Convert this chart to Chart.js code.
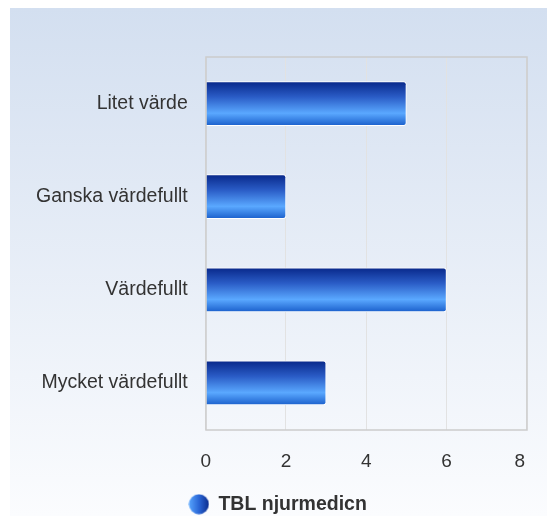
<!DOCTYPE html>
<html>
<head>
<meta charset="utf-8">
<script src="https://cdn.jsdelivr.net/npm/chart.js@4/dist/chart.umd.min.js"></script>
<style>
  html, body { margin: 0; padding: 0; background: #ffffff; }
  #wrap { width: 547px; height: 516px; position: relative; }
</style>
</head>
<body>
<div id="wrap"><canvas id="c" width="547" height="516"></canvas></div>
<script>
const categories = ['Litet värde', 'Ganska värdefullt', 'Värdefullt', 'Mycket värdefullt'];
const seriesName = 'TBL njurmedicn';
const seriesValues = [5, 2, 6, 3];
const xTicks = [0, 2, 4, 6, 8];

const BAR_THICK = 44;
const FONT = 'Liberation Sans, Arial, sans-serif';

function barGradient(ctx) {
  const chart = ctx.chart;
  const area = chart.chartArea;
  const yScale = chart.scales.y;
  if (!area || !yScale || ctx.dataIndex === undefined) return '#2f6fd6';
  const yc = yScale.getPixelForValue(ctx.dataIndex);
  const top = yc - BAR_THICK / 2, bot = yc + BAR_THICK / 2;
  const g = chart.ctx.createLinearGradient(0, top, 0, bot);
  g.addColorStop(0, '#08288a');
  g.addColorStop(0.35, '#2a5cc6');
  g.addColorStop(0.72, '#5aa8ff');
  g.addColorStop(1, '#1b60cc');
  return g;
}

const bgPlugin = {
  id: 'bgPlugin',
  beforeDraw(chart) {
    const c = chart.ctx;
    c.save();
    const g = c.createLinearGradient(0, 8, 0, 516);
    g.addColorStop(0, '#d3dff0');
    g.addColorStop(1, '#fbfcfe');
    c.fillStyle = g;
    c.fillRect(10, 8, 537, 508);
    c.restore();
    // keep the last x label inside the plot edge, as in the original
    try {
      const xs = chart.scales.x;
      const items = xs.getLabelItems(chart.chartArea);
      const last = items[items.length - 1];
      if (last && !last._shifted) { last.options.translation[0] -= 7; last._shifted = true; }
    } catch (e) {}
  },
  afterDatasetsDraw(chart) {
    const a = chart.chartArea;
    const c = chart.ctx;
    c.save();
    c.strokeStyle = '#cccccc';
    c.lineWidth = 1.5;
    c.strokeRect(Math.round(a.left), Math.round(a.top), Math.round(a.right - a.left), Math.round(a.bottom - a.top));
    c.restore();
  }
};

const legendIcon = (() => {
  const cv = document.createElement('canvas');
  cv.width = 21; cv.height = 21;
  const c = cv.getContext('2d');
  const g = c.createLinearGradient(0, 0, 21, 0);
  g.addColorStop(0, '#5aa8ff');
  g.addColorStop(0.5, '#2a66d6');
  g.addColorStop(1, '#0a2a8a');
  c.fillStyle = g;
  c.beginPath();
  c.arc(10.5, 10.5, 10, 0, Math.PI * 2);
  c.fill();
  return cv;
})();

new Chart(document.getElementById('c'), {
  type: 'bar',
  data: {
    labels: categories,
    datasets: [{
      label: seriesName,
      data: seriesValues,
      backgroundColor: barGradient,
      borderColor: '#ffffff',
      borderWidth: 1,
      borderRadius: 3,
      borderSkipped: 'start',
      barThickness: BAR_THICK
    }]
  },
  plugins: [bgPlugin],
  options: {
    indexAxis: 'y',
    responsive: false,
    animation: false,
    layout: { padding: { left: 18, right: 9, top: 57, bottom: -8 } },
    scales: {
      x: {
        min: 0, max: 8,
        afterBuildTicks(axis) { axis.ticks = xTicks.map(v => ({ value: v })); },
        afterFit(axis) { axis.height = 63; },
        grid: { color: '#e2e2e2', lineWidth: 1, drawTicks: true, tickLength: 6, tickColor: 'rgba(0,0,0,0)' },
        border: { display: false },
        ticks: {
          padding: 15,
          color: '#333333',
          font: { family: FONT, size: 19 }
        }
      },
      y: {
        grid: { display: false, drawTicks: false },
        border: { display: false },
        ticks: {
          padding: 18,
          color: '#333333',
          font: { family: FONT, size: 19.5 }
        }
      }
    },
    plugins: {
      legend: {
        position: 'bottom',
        labels: {
          usePointStyle: true,
          pointStyle: legendIcon,
          boxWidth: 21, boxHeight: 21,
          padding: 2,
          color: '#333333',
          font: { family: FONT, size: 19.5, weight: 'bold' }
        }
      },
      tooltip: { enabled: false }
    }
  }
});
</script>
</body>
</html>
